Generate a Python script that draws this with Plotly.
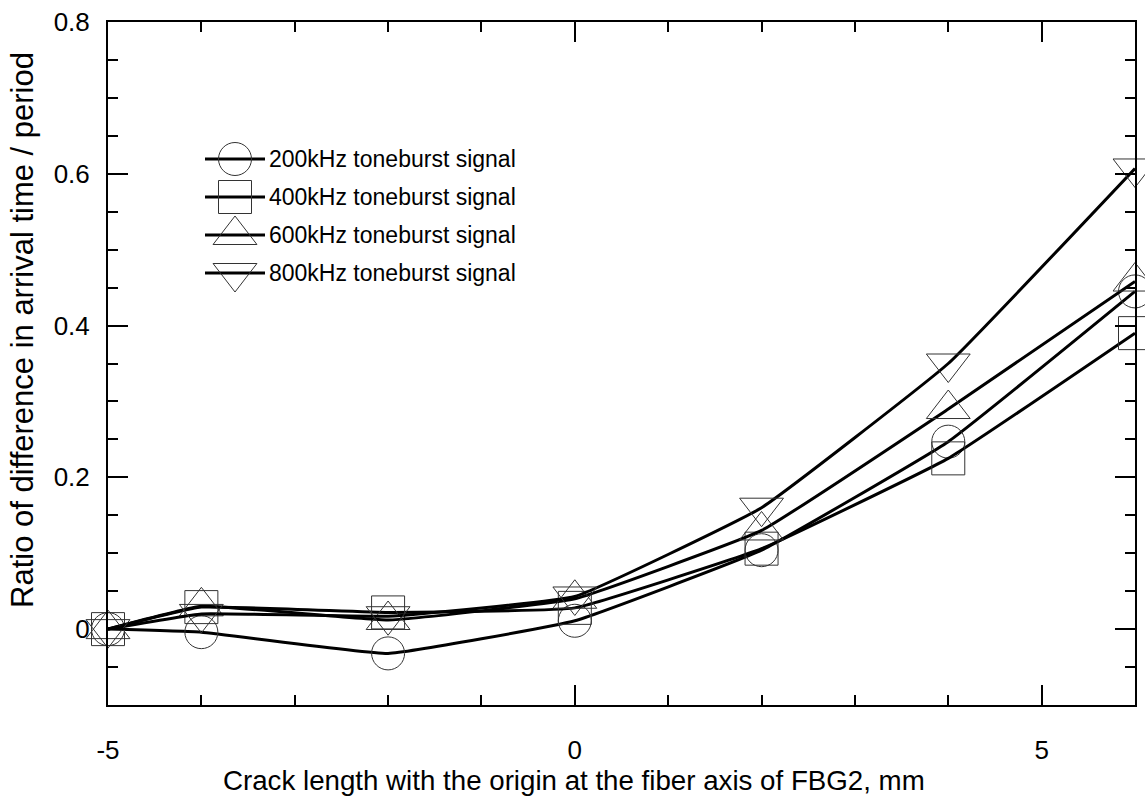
import plotly.graph_objects as go

# ---------------- data ----------------
crack_mm = [-5, -4, -2, 0, 2, 4, 6]
series_names = ["200kHz toneburst signal", "400kHz toneburst signal",
                "600kHz toneburst signal", "800kHz toneburst signal"]
ratio_200 = [0, -0.004, -0.032, 0.011, 0.104, 0.247, 0.445]
ratio_400 = [0, 0.029, 0.022, 0.028, 0.106, 0.225, 0.390]
ratio_600 = [0, 0.030, 0.012, 0.040, 0.130, 0.290, 0.458]
ratio_800 = [0, 0.020, 0.017, 0.043, 0.160, 0.350, 0.607]
series_values = [ratio_200, ratio_400, ratio_600, ratio_800]

x_ticks = [-5, 0, 5]
x_tick_labels = ["-5", "0", "5"]
y_ticks = [0, 0.2, 0.4, 0.6, 0.8]
y_tick_labels = ["0", "0.2", "0.4", "0.6", "0.8"]
x_title = "Crack length with the origin at the fiber axis of FBG2, mm"
y_title = "Ratio of difference in arrival time / period"

# ---------------- style ----------------
symbols = ["circle-open", "square-open", "triangle-up-open", "triangle-down-open"]
sizes = [33, 33, 38, 38]
FONT = "Arial, Liberation Sans, sans-serif"

W, H = 1145, 799
L, R, T, B = 108, 10, 22, 94

fig = go.Figure()
for name, vals, sym, sz in zip(series_names, series_values, symbols, sizes):
    fig.add_trace(go.Scatter(
        x=crack_mm, y=vals, name=name, mode="lines+markers",
        line=dict(color="black", width=3, shape="spline", smoothing=0.3),
        marker=dict(symbol=sym, size=sz, color="#333333", line=dict(width=1, color="#333333")),
        showlegend=False, cliponaxis=False,
    ))

plot_w = W - L - R
plot_h = H - T - B

def px2x(px):
    return (px - L) / plot_w

def py2y(py):
    return (H - B - py) / plot_h

# custom legend (large symbols) on an overlay axis in paper-like units
leg_marker_px = 235
leg_line_px = (205, 265)
leg_text_px = 267
leg_row_py = [159, 197, 235, 273]

for i, (name, sym, sz) in enumerate(zip(series_names, symbols, sizes)):
    yy = py2y(leg_row_py[i])
    fig.add_trace(go.Scatter(
        x=[px2x(leg_line_px[0]), px2x(leg_line_px[1])], y=[yy, yy],
        mode="lines", line=dict(color="black", width=3),
        xaxis="x2", yaxis="y2", showlegend=False, hoverinfo="skip",
    ))
    fig.add_trace(go.Scatter(
        x=[px2x(leg_marker_px)], y=[yy], mode="markers",
        marker=dict(symbol=sym, size=sz, color="#333333", line=dict(width=1, color="#333333")),
        xaxis="x2", yaxis="y2", showlegend=False, hoverinfo="skip",
    ))
    fig.add_annotation(x=px2x(leg_text_px), y=yy, xref="x2", yref="y2",
                       text=name, showarrow=False, xanchor="left", yanchor="middle",
                       font=dict(family=FONT, size=23, color="black"))

# axis titles (placed as in the original, offset from plot centre)
fig.add_annotation(x=px2x(574), y=py2y(798), xref="paper", yref="paper",
                   text=x_title, showarrow=False, xanchor="center", yanchor="bottom",
                   font=dict(family=FONT, size=27.7, color="black"))
fig.add_annotation(x=px2x(22), y=py2y(330), xref="paper", yref="paper",
                   text=y_title, showarrow=False, xanchor="center", yanchor="middle",
                   textangle=-90, font=dict(family=FONT, size=31, color="black"))

axis_common = dict(
    showgrid=False, zeroline=False, showline=True, linecolor="black", linewidth=2,
    ticks="inside", ticklen=20, tickwidth=1.5, tickcolor="black", mirror="allticks",
    tickfont=dict(family=FONT, size=26, color="black"), automargin=False,
)

fig.update_layout(
    width=W, height=H,
    margin=dict(l=L, r=R, t=T, b=B),
    paper_bgcolor="white", plot_bgcolor="white",
    font=dict(family=FONT, size=20, color="black"),
    xaxis=dict(range=[-5, 6], tickvals=x_ticks, ticktext=x_tick_labels,
               minor=dict(dtick=1, tick0=0, ticks="inside", ticklen=10, tickwidth=1.5, tickcolor="black"),
               ticklabelstandoff=21,
               **axis_common),
    yaxis=dict(range=[-0.1, 0.8], tickvals=y_ticks, ticktext=y_tick_labels,
               minor=dict(dtick=0.05, tick0=0, ticks="inside", ticklen=10, tickwidth=1.5, tickcolor="black"),
               ticklabelstandoff=11,
               **axis_common),
    xaxis2=dict(range=[0, 1], overlaying="x", visible=False),
    yaxis2=dict(range=[0, 1], overlaying="y", visible=False),
    showlegend=False,
)

fig.write_html("out.html")
